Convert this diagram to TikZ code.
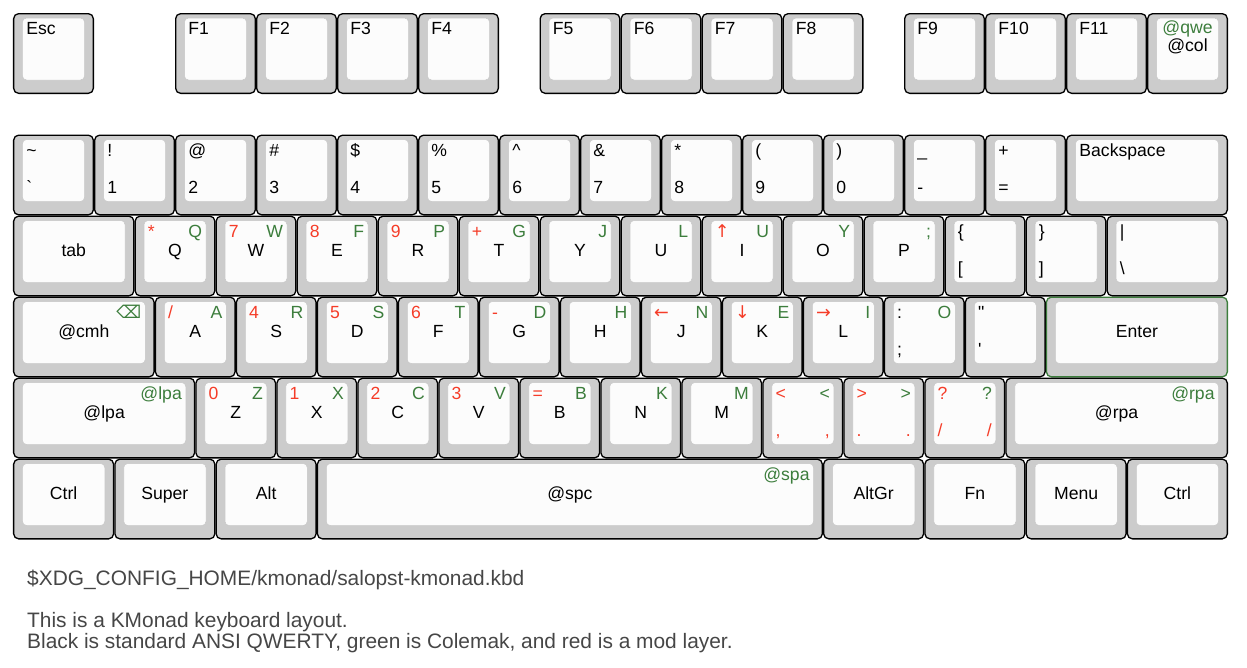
\documentclass[tikz,border=0pt]{standalone}
\usepackage{fontspec}
\setmainfont{Liberation Sans}
\newfontfamily\symbfont{DejaVu Sans}
\definecolor{keygray}{RGB}{204, 204, 204}
\definecolor{capwhite}{RGB}{252, 252, 252}
\definecolor{modred}{RGB}{245, 60, 40}
\definecolor{colegreen}{RGB}{60, 125, 60}
\definecolor{footgray}{RGB}{70, 70, 70}
\usetikzlibrary{calc}
\newcommand{\keyfont}{\fontsize{17.6pt}{20pt}\selectfont}
\newcommand{\modr}[1]{\textcolor{modred}{#1}}
\newcommand{\coln}[1]{\textcolor{colegreen}{#1}}
% [style] name, centre, width (u), top-left, top-right, centre, bottom-left, bottom-right
\newcommand{\kbkey}[9][]{%
  \node[keybody, minimum width=#4*81pt-1.3pt, #1] (#2) at (#3) {};
  \node[keycap, minimum width=#4*81pt-19pt] (#2-cap) at ([yshift=4.5pt]#2.center) {};
  \node[lgd, anchor=base west] at ([shift={(4pt,-17pt)}]#2-cap.north west) {#5};
  \node[lgd, anchor=base east] at ([shift={(-4pt,-17pt)}]#2-cap.north east) {#6};
  \node[lgd, anchor=base] at ([yshift=-5pt]#2-cap.center) {#7};
  \node[lgd, anchor=base west] at ([shift={(4pt,-54pt)}]#2-cap.north west) {#8};
  \node[lgd, anchor=base east] at ([shift={(-4pt,-54pt)}]#2-cap.north east) {#9};
}

\begin{document}
\begin{tikzpicture}[
  x=81pt, y=-81pt,
  keybody/.style={draw=black, line width=1.3pt, fill=keygray, rounded corners=5pt, inner sep=0pt, minimum height=79.7pt},
  keycap/.style={draw=black!22, line width=0.5pt, fill=capwhite, rounded corners=4pt, inner sep=0pt, minimum height=62pt},
  lgd/.style={font=\keyfont, inner sep=0pt},
  foot/.style={font=\fontsize{20.9pt}{24pt}\selectfont, text=footgray, inner sep=0pt}
]
  \useasboundingbox (-13pt,13pt) rectangle (1234pt,-654pt);

  % Function row
  \kbkey{esc}{0.5,0.5}{1}{Esc}{}{}{}{}
  \kbkey{f1}{2.5,0.5}{1}{F1}{}{}{}{}
  \kbkey{f2}{3.5,0.5}{1}{F2}{}{}{}{}
  \kbkey{f3}{4.5,0.5}{1}{F3}{}{}{}{}
  \kbkey{f4}{5.5,0.5}{1}{F4}{}{}{}{}
  \kbkey{f5}{7,0.5}{1}{F5}{}{}{}{}
  \kbkey{f6}{8,0.5}{1}{F6}{}{}{}{}
  \kbkey{f7}{9,0.5}{1}{F7}{}{}{}{}
  \kbkey{f8}{10,0.5}{1}{F8}{}{}{}{}
  \kbkey{f9}{11.5,0.5}{1}{F9}{}{}{}{}
  \kbkey{f10}{12.5,0.5}{1}{F10}{}{}{}{}
  \kbkey{f11}{13.5,0.5}{1}{F11}{}{}{}{}
  \kbkey{f12}{14.5,0.5}{1}{}{}{}{}{}
  \node[lgd, anchor=base, text=colegreen] (qwe) at ([yshift=-15.5pt]f12-cap.north) {@qwe};
  \node[lgd, anchor=base] (col) at ([yshift=-34pt]f12-cap.north) {@col};

  % Number row
  \kbkey{grave}{0.5,2}{1}{\textasciitilde}{}{}{\textasciigrave}{}
  \kbkey{n1}{1.5,2}{1}{!}{}{}{1}{}
  \kbkey{n2}{2.5,2}{1}{@}{}{}{2}{}
  \kbkey{n3}{3.5,2}{1}{\#}{}{}{3}{}
  \kbkey{n4}{4.5,2}{1}{\$}{}{}{4}{}
  \kbkey{n5}{5.5,2}{1}{\%}{}{}{5}{}
  \kbkey{n6}{6.5,2}{1}{\textasciicircum}{}{}{6}{}
  \kbkey{n7}{7.5,2}{1}{\&}{}{}{7}{}
  \kbkey{n8}{8.5,2}{1}{*}{}{}{8}{}
  \kbkey{n9}{9.5,2}{1}{(}{}{}{9}{}
  \kbkey{n0}{10.5,2}{1}{)}{}{}{0}{}
  \kbkey{minus}{11.5,2}{1}{\_}{}{}{-}{}
  \kbkey{equal}{12.5,2}{1}{+}{}{}{=}{}
  \kbkey{bksp}{14,2}{2}{Backspace}{}{}{}{}

  % Top letter row
  \kbkey{tab}{0.75,3}{1.5}{}{}{tab}{}{}
  \kbkey{q}{2,3}{1}{\modr{*}}{\coln{Q}}{Q}{}{}
  \kbkey{w}{3,3}{1}{\modr{7}}{\coln{W}}{W}{}{}
  \kbkey{e}{4,3}{1}{\modr{8}}{\coln{F}}{E}{}{}
  \kbkey{r}{5,3}{1}{\modr{9}}{\coln{P}}{R}{}{}
  \kbkey{t}{6,3}{1}{\modr{+}}{\coln{G}}{T}{}{}
  \kbkey{y}{7,3}{1}{}{\coln{J}}{Y}{}{}
  \kbkey{u}{8,3}{1}{}{\coln{L}}{U}{}{}
  \kbkey{i}{9,3}{1}{\modr{\symbfont ↑}}{\coln{U}}{I}{}{}
  \kbkey{o}{10,3}{1}{}{\coln{Y}}{O}{}{}
  \kbkey{p}{11,3}{1}{}{\coln{;}}{P}{}{}
  \kbkey{lbrack}{12,3}{1}{\{}{}{}{[}{}
  \kbkey{rbrack}{13,3}{1}{\}}{}{}{]}{}
  \kbkey{bslash}{14.25,3}{1.5}{|}{}{}{\textbackslash}{}

  % Home row
  \kbkey{cmh}{0.875,4}{1.75}{}{\coln{\symbfont ⌫}}{@cmh}{}{}
  \kbkey{a}{2.25,4}{1}{\modr{/}}{\coln{A}}{A}{}{}
  \kbkey{s}{3.25,4}{1}{\modr{4}}{\coln{R}}{S}{}{}
  \kbkey{d}{4.25,4}{1}{\modr{5}}{\coln{S}}{D}{}{}
  \kbkey{f}{5.25,4}{1}{\modr{6}}{\coln{T}}{F}{}{}
  \kbkey{g}{6.25,4}{1}{\modr{-}}{\coln{D}}{G}{}{}
  \kbkey{h}{7.25,4}{1}{}{\coln{H}}{H}{}{}
  \kbkey{j}{8.25,4}{1}{\modr{\symbfont ←}}{\coln{N}}{J}{}{}
  \kbkey{k}{9.25,4}{1}{\modr{\symbfont ↓}}{\coln{E}}{K}{}{}
  \kbkey{l}{10.25,4}{1}{\modr{\symbfont →}}{\coln{I}}{L}{}{}
  \kbkey{semi}{11.25,4}{1}{:}{\coln{O}}{}{;}{}
  \kbkey{quote}{12.25,4}{1}{\textquotedbl}{}{}{\textquotesingle}{}
  \kbkey[draw=colegreen]{enter}{13.875,4}{2.25}{}{}{Enter}{}{}

  % Bottom letter row
  \kbkey{lpa}{1.125,5}{2.25}{}{\coln{@lpa}}{@lpa}{}{}
  \kbkey{z}{2.75,5}{1}{\modr{0}}{\coln{Z}}{Z}{}{}
  \kbkey{x}{3.75,5}{1}{\modr{1}}{\coln{X}}{X}{}{}
  \kbkey{c}{4.75,5}{1}{\modr{2}}{\coln{C}}{C}{}{}
  \kbkey{v}{5.75,5}{1}{\modr{3}}{\coln{V}}{V}{}{}
  \kbkey{b}{6.75,5}{1}{\modr{=}}{\coln{B}}{B}{}{}
  \kbkey{n}{7.75,5}{1}{}{\coln{K}}{N}{}{}
  \kbkey{m}{8.75,5}{1}{}{\coln{M}}{M}{}{}
  \kbkey{comma}{9.75,5}{1}{\modr{<}}{\coln{<}}{}{\modr{,}}{\modr{,}}
  \kbkey{period}{10.75,5}{1}{\modr{>}}{\coln{>}}{}{\modr{.}}{\modr{.}}
  \kbkey{slash}{11.75,5}{1}{\modr{?}}{\coln{?}}{}{\modr{/}}{\modr{/}}
  \kbkey{rpa}{13.625,5}{2.75}{}{\coln{@rpa}}{@rpa}{}{}

  % Modifier row
  \kbkey{lctrl}{0.625,6}{1.25}{}{}{Ctrl}{}{}
  \kbkey{super}{1.875,6}{1.25}{}{}{Super}{}{}
  \kbkey{alt}{3.125,6}{1.25}{}{}{Alt}{}{}
  \kbkey{spc}{6.875,6}{6.25}{}{\coln{@spa}}{@spc}{}{}
  \kbkey{altgr}{10.625,6}{1.25}{}{}{AltGr}{}{}
  \kbkey{fn}{11.875,6}{1.25}{}{}{Fn}{}{}
  \kbkey{menu}{13.125,6}{1.25}{}{}{Menu}{}{}
  \kbkey{rctrl}{14.375,6}{1.25}{}{}{Ctrl}{}{}

  \node[foot, anchor=base west] (path) at (14pt,-572pt) {\$XDG\_CONFIG\_HOME/kmonad/salopst-kmonad.kbd};
  \node[foot, anchor=base west] (about) at (14pt,-614pt) {This is a KMonad keyboard layout.};
  \node[foot, anchor=base west] (legend) at (14pt,-635pt) {Black is standard ANSI QWERTY, green is Colemak, and red is a mod layer.};
\end{tikzpicture}
\end{document}
